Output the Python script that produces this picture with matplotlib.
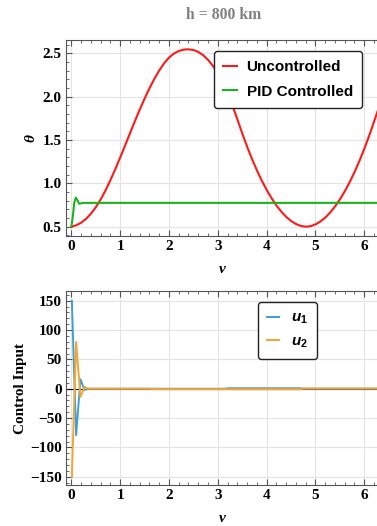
import matplotlib
matplotlib.use("Agg")
import matplotlib.pyplot as plt
from matplotlib.ticker import MultipleLocator

plt.rcParams['mathtext.fontset'] = 'custom'
plt.rcParams['mathtext.it'] = 'Liberation Sans:bold:italic'
plt.rcParams['mathtext.rm'] = 'Liberation Sans:bold'
plt.rcParams['mathtext.bf'] = 'Liberation Sans:bold'

# ---- data ----
nu_unc = [0.00, 0.10, 0.20, 0.30, 0.40, 0.50, 0.60, 0.70, 0.80, 0.90, 1.00, 1.10, 1.20, 1.30,
          1.40, 1.50, 1.60, 1.70, 1.80, 1.90, 2.00, 2.10, 2.20, 2.30, 2.385, 2.50, 2.60, 2.70,
          2.80, 2.90, 3.00, 3.10, 3.20, 3.30, 3.41, 3.51, 3.61, 3.71, 3.81, 3.91, 4.01, 4.11,
          4.21, 4.31, 4.41, 4.51, 4.61, 4.71, 4.81, 4.91, 5.01, 5.11, 5.21, 5.31, 5.41, 5.51,
          5.61, 5.71, 5.81, 5.91, 6.01, 6.11, 6.21, 6.283]
theta_unc = [0.500, 0.517, 0.546, 0.590, 0.650, 0.724, 0.814, 0.919, 1.037, 1.164, 1.298, 1.436,
             1.576, 1.715, 1.849, 1.976, 2.096, 2.205, 2.301, 2.384, 2.450, 2.496, 2.526, 2.542,
             2.546, 2.538, 2.516, 2.478, 2.424, 2.355, 2.272, 2.170, 2.045, 1.900, 1.725, 1.562,
             1.410, 1.269, 1.140, 1.022, 0.916, 0.822, 0.739, 0.668, 0.609, 0.563, 0.529, 0.508,
             0.500, 0.508, 0.529, 0.563, 0.609, 0.668, 0.739, 0.822, 0.916, 1.022, 1.140, 1.269,
             1.410, 1.562, 1.725, 1.845]

nu_pid = [0.00, 0.03, 0.06, 0.09, 0.12, 0.16, 0.20, 0.25, 6.283]
theta_pid = [0.500, 0.620, 0.780, 0.835, 0.810, 0.765, 0.770, 0.775, 0.775]

nu_u = [0.01, 0.097, 0.186, 0.27, 0.35, 1.60, 1.70, 3.15, 3.20, 4.70, 4.75, 6.283]
u1 = [150.0, -79.0, 16.0, -2.0, 0.0, 0.0, 0.0, 0.0, 0.8, 0.8, 0.0, 0.0]
u2 = [-150.0, 80.0, -14.0, 3.0, 0.0, 0.0, -0.8, -0.8, -0.8, -0.8, 0.5, 0.5]

labels_top = ["Uncontrolled", "PID Controlled"]
labels_bot = [r"$u_1$", r"$u_2$"]
title = "h = 800 km"

serif = ['Liberation Serif', 'DejaVu Serif']
sans = ['Liberation Sans', 'DejaVu Sans']

fig = plt.figure(figsize=(3.77, 5.26), dpi=100)
W, H = 377, 526
def rect(l, t, r, b):
    return [l / W, 1 - b / H, (r - l) / W, (b - t) / H]

ax1 = fig.add_axes(rect(66, 40, 378, 236))
ax2 = fig.add_axes(rect(66, 291, 378, 485))

red = '#ff1a1a'
green = '#1db31d'
blue = '#3e9ed8'
orange = '#f5a530'

ax1.plot(nu_unc, theta_unc, color=red, lw=1.5, label=labels_top[0], zorder=3)
ax1.plot(nu_pid, theta_pid, color=green, lw=1.5, label=labels_top[1], zorder=3)
ax1.set_xlim(-0.11, 6.283)
ax1.set_ylim(0.393, 2.653)
ax1.yaxis.set_major_locator(MultipleLocator(0.5))
ax1.yaxis.set_minor_locator(MultipleLocator(0.1))

ax2.axhline(0, color='black', lw=0.8, zorder=2)
ax2.plot(nu_u, u1, color=blue, lw=1.4, label=labels_bot[0], zorder=3)
ax2.plot(nu_u, u2, color=orange, lw=1.4, label=labels_bot[1], zorder=3)
ax2.set_xlim(-0.11, 6.283)
ax2.set_ylim(-164, 166.5)
ax2.yaxis.set_major_locator(MultipleLocator(50))
ax2.yaxis.set_minor_locator(MultipleLocator(10))

for ax in (ax1, ax2):
    ax.xaxis.set_major_locator(MultipleLocator(1))
    ax.xaxis.set_minor_locator(MultipleLocator(0.2))
    ax.grid(True, which='major', color='#e4e4e4', lw=0.8, zorder=0)
    ax.set_axisbelow(True)
    ax.tick_params(which='both', direction='in', top=True, right=False, color='#555555')
    ax.tick_params(which='major', length=4, width=0.8, labelsize=11, pad=3)
    ax.tick_params(which='minor', length=2, width=0.6)
    for s in ax.spines.values():
        s.set_color('#555555')
        s.set_linewidth(0.8)
    ax.spines['right'].set_visible(False)
    for lab in ax.get_xticklabels() + ax.get_yticklabels():
        lab.set_family(serif)
        lab.set_fontweight('bold')
    ax.set_xlabel(r"ν", family=serif, style='italic', fontweight='bold', fontsize=11, labelpad=7)

ax1.set_ylabel(r"θ", family=serif, style='italic', fontweight='bold', fontsize=11, labelpad=4)
ax2.set_ylabel("Control Input", family=serif, fontweight='bold', fontsize=11, labelpad=2)

fig.text(224 / W, 1 - 15 / H, title, ha='center', va='center', family=serif,
         fontweight='bold', fontsize=11.3, color='#808080')

leg1 = ax1.legend(loc='upper left', bbox_to_anchor=((213.7 - 66) / 312, 1 - (50.7 - 40) / 196),
                  prop={'family': sans, 'weight': 'bold', 'size': 11},
                  frameon=True, fancybox=True, framealpha=1, edgecolor='#222222',
                  handlelength=0.95, handletextpad=0.6, borderpad=0.6, labelspacing=0.7,
                  borderaxespad=0)
leg1.get_frame().set_linewidth(1.0)

leg2 = ax2.legend(loc='upper left', bbox_to_anchor=((258 - 66) / 312, 1 - (301.7 - 291) / 194),
                  prop={'family': sans, 'weight': 'bold', 'size': 11},
                  frameon=True, fancybox=True, framealpha=1, edgecolor='#222222',
                  handlelength=0.8, handletextpad=0.75, borderpad=0.6, labelspacing=0.55,
                  borderaxespad=0)
leg2.get_frame().set_linewidth(1.0)

fig.savefig('out.png', dpi=100)
